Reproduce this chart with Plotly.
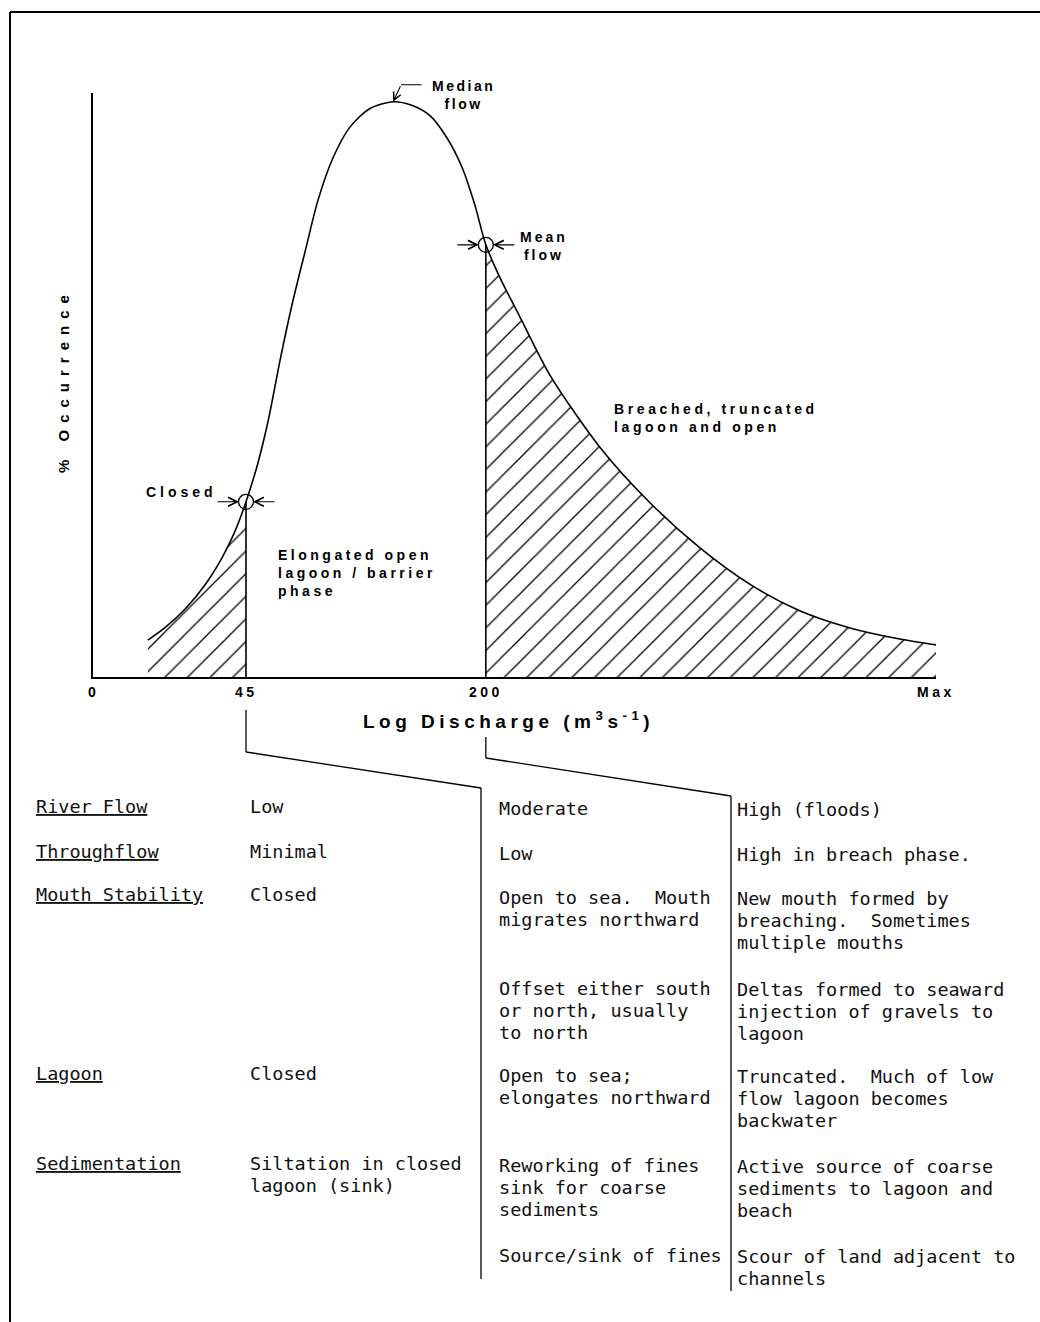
import plotly.graph_objects as go

# ---------------- data (axis units) ----------------
# x: position along the log-discharge axis (0 = origin, 100 = Max)
# y: % occurrence (0..100)
CURVE_X = [6.5, 8.5, 10.9, 13.3, 15.3, 16.8, 18.15, 19.5, 20.8, 22.2, 23.6, 25.2,
           26.7, 28.5, 30.5, 32.9, 35.6, 37.8, 40.0, 42.0, 43.8, 45.3, 46.6, 48.3,
           50.7, 54.2, 60.1, 66.1, 72.0, 77.9, 83.9, 89.8, 95.7, 100.0]
CURVE_Y = [6.3, 8.4, 11.6, 15.8, 20.4, 24.8, 30.0, 36.3, 44.0, 54.3, 63.7, 73.1,
           81.7, 89.0, 94.2, 97.4, 98.5, 97.9, 96.1, 92.3, 87.2, 80.8, 74.0, 68.3,
           61.5, 51.7, 39.4, 29.8, 22.1, 15.9, 11.3, 8.4, 6.5, 5.5]
CLOSED_I, MEDIAN_I, MEAN_I = 6, 16, 22

TICK_POS = [0, 18.15, 46.6, 100]
TICK_TEXT = ["0", "45", "200", "Max"]

ROW_LABELS = ["River Flow", "Throughflow", "Mouth Stability", "", "Lagoon",
              "Sedimentation", ""]
LOW_FLOW = ["Low", "Minimal", "Closed", "", "Closed",
            "Siltation in closed<br>lagoon (sink)", ""]
MODERATE_FLOW = ["Moderate", "Low", "Open to sea.  Mouth<br>migrates northward",
                 "Offset either south<br>or north, usually<br>to north",
                 "Open to sea;<br>elongates northward",
                 "Reworking of fines<br>sink for coarse<br>sediments",
                 "Source/sink of fines"]
HIGH_FLOW = ["High (floods)", "High in breach phase.",
             "New mouth formed by<br>breaching.  Sometimes<br>multiple mouths",
             "Deltas formed to seaward<br>injection of gravels to<br>lagoon",
             "Truncated.  Much of low<br>flow lagoon becomes<br>backwater",
             "Active source of coarse<br>sediments to lagoon and<br>beach",
             "Scour of land adjacent to<br>channels"]

# ---------------- layout constants (pixels) ----------------
W, H = 1040, 1322
AX_L, AX_R, AX_B, AX_T = 93, 936, 677, 93
COL_X = [34, 248, 497, 735]
COL_DY = [0, 0, 2, 3]
ROW_Y = [806, 851, 895, 986, 1073, 1163, 1253]
LINE_H = 22

BOLD = "Liberation Sans"
MONO = "DejaVu Sans Mono"


def px(x):
    return x / W


def py(y):
    return 1 - y / H


def sp(text, ls):
    return "<br>".join(f'<span style="letter-spacing:{ls}px">{t}</span>'
                       for t in text.split("<br>"))


def tick_px(u):
    return AX_L + (AX_R - AX_L) * u / 100.0


fig = go.Figure()

cx, cy = CURVE_X[CLOSED_I], CURVE_Y[CLOSED_I]
mx, my = CURVE_X[MEAN_I], CURVE_Y[MEAN_I]
dx, dy = CURVE_X[MEDIAN_I], CURVE_Y[MEDIAN_I]

hatch = dict(shape="/", fgcolor="black", bgcolor="white", size=16,
             solidity=0.08, fillmode="replace")
curve_line = dict(color="black", width=1.6, shape="spline", smoothing=0.8)

# hatched low-flow area (under the curve, down to the axis)
fig.add_trace(go.Scatter(x=CURVE_X[:CLOSED_I + 1], y=CURVE_Y[:CLOSED_I + 1],
                         fill="tozeroy", fillcolor="white", fillpattern=hatch,
                         mode="lines", line=dict(curve_line, width=0),
                         hoverinfo="skip"))
# hatched high-flow area
fig.add_trace(go.Scatter(x=CURVE_X[MEAN_I:], y=CURVE_Y[MEAN_I:],
                         fill="tozeroy", fillcolor="white", fillpattern=hatch,
                         mode="lines", line=dict(curve_line, width=0),
                         hoverinfo="skip"))
# frequency curve
fig.add_trace(go.Scatter(x=CURVE_X, y=CURVE_Y, mode="lines", line=curve_line,
                         hoverinfo="skip"))
# vertical threshold lines
fig.add_trace(go.Scatter(x=[cx, cx, None, mx, mx], y=[0, cy, None, 0, my],
                         mode="lines", line=dict(color="black", width=1.6),
                         hoverinfo="skip"))
# threshold circles
fig.add_trace(go.Scatter(x=[cx, mx], y=[cy, my], mode="markers",
                         marker=dict(symbol="circle-open", size=15, color="black",
                                     line=dict(width=1.3, color="black")),
                         hoverinfo="skip"))

ann = []
# arrows pointing at the two circles
for (x, y) in [(cx, cy), (mx, my)]:
    for side in (-1, 1):
        ann.append(dict(x=x, y=y, xref="x", yref="y", text="", showarrow=True,
                        arrowhead=5, arrowsize=1.6, arrowwidth=1.1,
                        arrowcolor="black", ax=side * 30, ay=0, standoff=7))
# median leader
ann.append(dict(x=dx, y=dy, xref="x", yref="y", text="", showarrow=True,
                arrowhead=5, arrowsize=1.4, arrowwidth=1.1, arrowcolor="black",
                ax=8, ay=-17, standoff=0))
ann.append(dict(x=dx, y=dy, xref="x", yref="y", text="", showarrow=True,
                arrowhead=0, arrowwidth=1.1, arrowcolor="black",
                ax=22, ay=0, xshift=8, yshift=17))


def bfont(size):
    return dict(family=BOLD, size=size, color="black", weight="bold")


ann.append(dict(x=dx, y=dy, xref="x", yref="y", text=sp("Median<br>flow", 2.5),
                showarrow=False, xshift=70, yshift=7, font=bfont(14),
                xanchor="center", yanchor="middle", align="center"))
ann.append(dict(x=mx, y=my, xref="x", yref="y", text=sp("Mean<br>flow", 3),
                showarrow=False, xshift=58, yshift=-1, font=bfont(14),
                xanchor="center", yanchor="middle", align="center"))
ann.append(dict(x=cx, y=cy, xref="x", yref="y", text=sp("Closed", 4),
                showarrow=False, xshift=-27, yshift=10, xanchor="right",
                yanchor="middle", font=bfont(14)))
ann.append(dict(x=21.7, y=17.8, xref="x", yref="y",
                text=sp("Elongated open<br>lagoon / barrier<br>phase", 3.5),
                showarrow=False, xanchor="left", yanchor="middle", align="left",
                font=bfont(14)))
ann.append(dict(x=61.6, y=44.3, xref="x", yref="y",
                text=sp("Breached, truncated<br>lagoon and open", 3.6),
                showarrow=False, xanchor="left", yanchor="middle", align="left",
                font=bfont(14)))

# tick labels
for u, t in zip(TICK_POS, TICK_TEXT):
    ann.append(dict(x=u, y=py(692), xref="x", yref="paper", text=sp(t, 3.5),
                    showarrow=False, xanchor="center", yanchor="middle",
                    font=bfont(14)))
# axis titles
ann.append(dict(x=px(508), y=py(720), xref="paper", yref="paper",
                text=sp("Log Discharge (m<sup>3</sup>s<sup>-1</sup>)", 4.5),
                showarrow=False, xanchor="center", yanchor="middle",
                font=bfont(19)))
ann.append(dict(x=px(64), y=py(381), xref="paper", yref="paper",
                text=sp("% Occurrence", 7), textangle=-90, showarrow=False,
                xanchor="center", yanchor="middle", font=bfont(15)))

# table text
for ci, col in enumerate([ROW_LABELS, LOW_FLOW, MODERATE_FLOW, HIGH_FLOW]):
    for ri, cell in enumerate(col):
        if not cell:
            continue
        for li, line in enumerate(cell.split("<br>")):
            f = dict(family=MONO, size=18.5, color="#111")
            if ci == 0:
                f["lineposition"] = "under"
            ann.append(dict(x=px(COL_X[ci]), y=py(ROW_Y[ri] + COL_DY[ci] + li * LINE_H),
                            xref="paper", yref="paper",
                            text=line.replace("  ", " \u00a0"),
                            showarrow=False, xanchor="left", yanchor="middle",
                            font=f))

# connector / divider lines and frame
t45, t200 = tick_px(TICK_POS[1]), tick_px(TICK_POS[2])
segs = [
    ((t45, 710), (t45, 752)), ((t45, 752), (481, 788)), ((481, 788), (481, 1279)),
    ((t200, 737), (t200, 758)), ((t200, 758), (731, 796)), ((731, 796), (731, 1291)),
    ((10, 12), (1040, 12)), ((10, 12), (10, 1322)),
]
shapes = []
for (x0, y0), (x1, y1) in segs:
    shapes.append(dict(type="line", xref="paper", yref="paper",
                       x0=px(x0), y0=py(y0), x1=px(x1), y1=py(y1),
                       line=dict(color="black", width=1.3 if y0 > 100 else 2)))

fig.update_layout(
    width=W, height=H, margin=dict(l=0, r=0, t=0, b=0),
    paper_bgcolor="white", plot_bgcolor="white", showlegend=False,
    xaxis=dict(domain=[px(AX_L), px(AX_R)], range=[0, 100], showline=True,
               linecolor="black", linewidth=2, showgrid=False, zeroline=False,
               showticklabels=False, ticks="", fixedrange=True),
    yaxis=dict(domain=[py(AX_B), py(AX_T)], range=[0, 100], showline=True,
               linecolor="black", linewidth=2, showgrid=False, zeroline=False,
               showticklabels=False, ticks="", fixedrange=True),
    annotations=ann, shapes=shapes,
)

fig.write_html("out.html",
               config={"displayModeBar": False},
               post_script="document.body.style.margin='0';"
                           "document.body.style.padding='0';")
